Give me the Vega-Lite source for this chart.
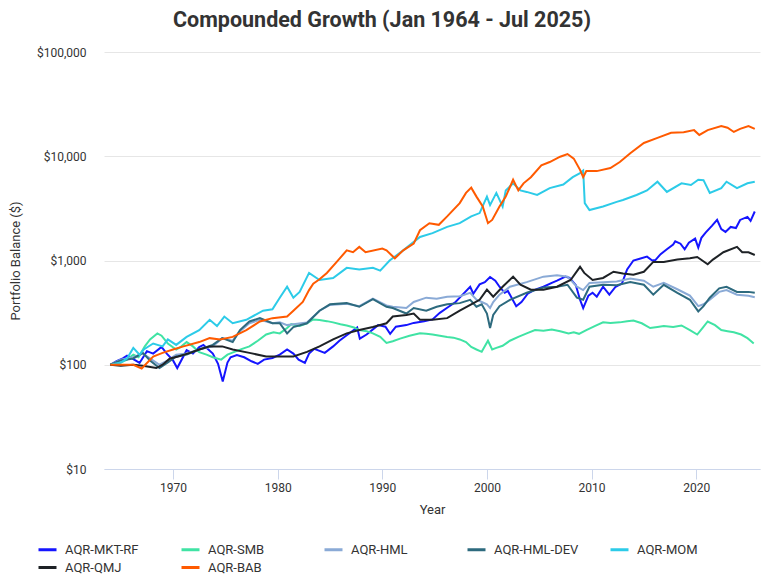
{
"$schema":"https://vega.github.io/schema/vega-lite/v6.json",
"width":656,"height":417,
"autosize":{"type":"none"},
"padding":{"left":104,"top":52,"right":2,"bottom":108},
"background":"white",
"config":{"view":{"stroke":null},"font":"Roboto"},
"title":{"text":"Compounded Growth (Jan 1964 - Jul 2025)","fontSize":21.5,"fontWeight":"bold","color":"#333333","anchor":"middle","frame":"group","dx":-50,"offset":15,"font":"Roboto"},
"data":{"values":[
{"s":"AQR-MKT-RF","t":1964.0,"v":100},{"s":"AQR-MKT-RF","t":1964.6,"v":108},{"s":"AQR-MKT-RF","t":1965.2,"v":115},{"s":"AQR-MKT-RF","t":1965.6,"v":122},{"s":"AQR-MKT-RF","t":1966.4,"v":110},{"s":"AQR-MKT-RF","t":1966.8,"v":104},{"s":"AQR-MKT-RF","t":1967.5,"v":135},{"s":"AQR-MKT-RF","t":1968.1,"v":128},{"s":"AQR-MKT-RF","t":1968.9,"v":148},{"s":"AQR-MKT-RF","t":1969.4,"v":128},{"s":"AQR-MKT-RF","t":1970.0,"v":110},{"s":"AQR-MKT-RF","t":1970.4,"v":93},{"s":"AQR-MKT-RF","t":1971.3,"v":138},{"s":"AQR-MKT-RF","t":1971.9,"v":128},{"s":"AQR-MKT-RF","t":1972.5,"v":148},{"s":"AQR-MKT-RF","t":1972.9,"v":155},{"s":"AQR-MKT-RF","t":1973.8,"v":128},{"s":"AQR-MKT-RF","t":1974.3,"v":102},{"s":"AQR-MKT-RF","t":1974.75,"v":69},{"s":"AQR-MKT-RF","t":1975.2,"v":105},{"s":"AQR-MKT-RF","t":1975.5,"v":118},{"s":"AQR-MKT-RF","t":1976.1,"v":124},{"s":"AQR-MKT-RF","t":1976.8,"v":118},{"s":"AQR-MKT-RF","t":1977.5,"v":108},{"s":"AQR-MKT-RF","t":1978.1,"v":102},{"s":"AQR-MKT-RF","t":1978.7,"v":112},{"s":"AQR-MKT-RF","t":1979.5,"v":116},{"s":"AQR-MKT-RF","t":1980.2,"v":125},{"s":"AQR-MKT-RF","t":1980.9,"v":140},{"s":"AQR-MKT-RF","t":1981.5,"v":128},{"s":"AQR-MKT-RF","t":1982.0,"v":112},{"s":"AQR-MKT-RF","t":1982.6,"v":104},{"s":"AQR-MKT-RF","t":1983.0,"v":128},{"s":"AQR-MKT-RF","t":1983.5,"v":142},{"s":"AQR-MKT-RF","t":1984.5,"v":130},{"s":"AQR-MKT-RF","t":1985.3,"v":150},{"s":"AQR-MKT-RF","t":1985.9,"v":170},{"s":"AQR-MKT-RF","t":1986.6,"v":192},{"s":"AQR-MKT-RF","t":1987.6,"v":228},{"s":"AQR-MKT-RF","t":1987.85,"v":178},{"s":"AQR-MKT-RF","t":1988.5,"v":195},{"s":"AQR-MKT-RF","t":1989.6,"v":240},{"s":"AQR-MKT-RF","t":1990.3,"v":232},{"s":"AQR-MKT-RF","t":1990.75,"v":198},{"s":"AQR-MKT-RF","t":1991.3,"v":232},{"s":"AQR-MKT-RF","t":1992.3,"v":240},{"s":"AQR-MKT-RF","t":1993.0,"v":252},{"s":"AQR-MKT-RF","t":1994.0,"v":262},{"s":"AQR-MKT-RF","t":1994.8,"v":272},{"s":"AQR-MKT-RF","t":1995.5,"v":315},{"s":"AQR-MKT-RF","t":1996.2,"v":352},{"s":"AQR-MKT-RF","t":1997.0,"v":400},{"s":"AQR-MKT-RF","t":1997.4,"v":440},{"s":"AQR-MKT-RF","t":1998.4,"v":560},{"s":"AQR-MKT-RF","t":1998.7,"v":480},{"s":"AQR-MKT-RF","t":1999.3,"v":590},{"s":"AQR-MKT-RF","t":1999.8,"v":620},{"s":"AQR-MKT-RF","t":2000.3,"v":695},{"s":"AQR-MKT-RF","t":2000.8,"v":640},{"s":"AQR-MKT-RF","t":2001.2,"v":560},{"s":"AQR-MKT-RF","t":2001.7,"v":490},{"s":"AQR-MKT-RF","t":2002.0,"v":510},{"s":"AQR-MKT-RF","t":2002.8,"v":364},{"s":"AQR-MKT-RF","t":2003.3,"v":400},{"s":"AQR-MKT-RF","t":2003.9,"v":480},{"s":"AQR-MKT-RF","t":2004.5,"v":520},{"s":"AQR-MKT-RF","t":2005.4,"v":560},{"s":"AQR-MKT-RF","t":2006.2,"v":610},{"s":"AQR-MKT-RF","t":2006.7,"v":640},{"s":"AQR-MKT-RF","t":2007.5,"v":700},{"s":"AQR-MKT-RF","t":2007.9,"v":680},{"s":"AQR-MKT-RF","t":2008.5,"v":580},{"s":"AQR-MKT-RF","t":2008.9,"v":420},{"s":"AQR-MKT-RF","t":2009.2,"v":350},{"s":"AQR-MKT-RF","t":2009.7,"v":460},{"s":"AQR-MKT-RF","t":2010.1,"v":490},{"s":"AQR-MKT-RF","t":2010.5,"v":450},{"s":"AQR-MKT-RF","t":2011.1,"v":560},{"s":"AQR-MKT-RF","t":2011.7,"v":470},{"s":"AQR-MKT-RF","t":2012.3,"v":560},{"s":"AQR-MKT-RF","t":2012.9,"v":600},{"s":"AQR-MKT-RF","t":2013.4,"v":820},{"s":"AQR-MKT-RF","t":2014.0,"v":1000},{"s":"AQR-MKT-RF","t":2014.6,"v":1040},{"s":"AQR-MKT-RF","t":2015.3,"v":1090},{"s":"AQR-MKT-RF","t":2015.8,"v":1000},{"s":"AQR-MKT-RF","t":2016.1,"v":1010},{"s":"AQR-MKT-RF","t":2016.6,"v":1150},{"s":"AQR-MKT-RF","t":2017.2,"v":1280},{"s":"AQR-MKT-RF","t":2017.8,"v":1420},{"s":"AQR-MKT-RF","t":2018.0,"v":1530},{"s":"AQR-MKT-RF","t":2018.5,"v":1450},{"s":"AQR-MKT-RF","t":2018.9,"v":1280},{"s":"AQR-MKT-RF","t":2019.3,"v":1480},{"s":"AQR-MKT-RF","t":2019.9,"v":1620},{"s":"AQR-MKT-RF","t":2020.2,"v":1330},{"s":"AQR-MKT-RF","t":2020.5,"v":1650},{"s":"AQR-MKT-RF","t":2020.9,"v":1850},{"s":"AQR-MKT-RF","t":2021.5,"v":2150},{"s":"AQR-MKT-RF","t":2022.0,"v":2460},{"s":"AQR-MKT-RF","t":2022.4,"v":2000},{"s":"AQR-MKT-RF","t":2022.8,"v":1880},{"s":"AQR-MKT-RF","t":2023.3,"v":2100},{"s":"AQR-MKT-RF","t":2023.8,"v":2050},{"s":"AQR-MKT-RF","t":2024.2,"v":2450},{"s":"AQR-MKT-RF","t":2024.9,"v":2620},{"s":"AQR-MKT-RF","t":2025.2,"v":2400},{"s":"AQR-MKT-RF","t":2025.6,"v":2950},
{"s":"AQR-SMB","t":1964.0,"v":100},{"s":"AQR-SMB","t":1964.8,"v":103},{"s":"AQR-SMB","t":1965.6,"v":112},{"s":"AQR-SMB","t":1966.2,"v":125},{"s":"AQR-SMB","t":1966.7,"v":118},{"s":"AQR-SMB","t":1967.3,"v":150},{"s":"AQR-SMB","t":1967.8,"v":175},{"s":"AQR-SMB","t":1968.5,"v":200},{"s":"AQR-SMB","t":1968.9,"v":190},{"s":"AQR-SMB","t":1969.5,"v":160},{"s":"AQR-SMB","t":1970.3,"v":140},{"s":"AQR-SMB","t":1970.8,"v":150},{"s":"AQR-SMB","t":1971.3,"v":165},{"s":"AQR-SMB","t":1971.9,"v":150},{"s":"AQR-SMB","t":1972.5,"v":132},{"s":"AQR-SMB","t":1973.2,"v":125},{"s":"AQR-SMB","t":1973.8,"v":118},{"s":"AQR-SMB","t":1974.6,"v":112},{"s":"AQR-SMB","t":1975.2,"v":125},{"s":"AQR-SMB","t":1975.8,"v":132},{"s":"AQR-SMB","t":1976.6,"v":142},{"s":"AQR-SMB","t":1977.3,"v":150},{"s":"AQR-SMB","t":1978.1,"v":170},{"s":"AQR-SMB","t":1978.9,"v":195},{"s":"AQR-SMB","t":1979.6,"v":205},{"s":"AQR-SMB","t":1980.2,"v":200},{"s":"AQR-SMB","t":1980.9,"v":225},{"s":"AQR-SMB","t":1981.3,"v":245},{"s":"AQR-SMB","t":1982.1,"v":235},{"s":"AQR-SMB","t":1982.8,"v":250},{"s":"AQR-SMB","t":1983.4,"v":272},{"s":"AQR-SMB","t":1984.0,"v":268},{"s":"AQR-SMB","t":1984.7,"v":262},{"s":"AQR-SMB","t":1985.3,"v":255},{"s":"AQR-SMB","t":1986.0,"v":245},{"s":"AQR-SMB","t":1986.6,"v":238},{"s":"AQR-SMB","t":1987.3,"v":228},{"s":"AQR-SMB","t":1987.8,"v":215},{"s":"AQR-SMB","t":1988.5,"v":210},{"s":"AQR-SMB","t":1989.1,"v":200},{"s":"AQR-SMB","t":1989.8,"v":185},{"s":"AQR-SMB","t":1990.4,"v":162},{"s":"AQR-SMB","t":1991.0,"v":168},{"s":"AQR-SMB","t":1991.7,"v":178},{"s":"AQR-SMB","t":1992.6,"v":190},{"s":"AQR-SMB","t":1993.6,"v":200},{"s":"AQR-SMB","t":1994.2,"v":198},{"s":"AQR-SMB","t":1994.8,"v":195},{"s":"AQR-SMB","t":1995.5,"v":190},{"s":"AQR-SMB","t":1996.2,"v":185},{"s":"AQR-SMB","t":1996.8,"v":182},{"s":"AQR-SMB","t":1997.4,"v":175},{"s":"AQR-SMB","t":1998.0,"v":165},{"s":"AQR-SMB","t":1998.5,"v":148},{"s":"AQR-SMB","t":1999.0,"v":140},{"s":"AQR-SMB","t":1999.5,"v":133},{"s":"AQR-SMB","t":2000.1,"v":170},{"s":"AQR-SMB","t":2000.5,"v":140},{"s":"AQR-SMB","t":2000.9,"v":145},{"s":"AQR-SMB","t":2001.5,"v":152},{"s":"AQR-SMB","t":2002.2,"v":170},{"s":"AQR-SMB","t":2003.0,"v":185},{"s":"AQR-SMB","t":2003.8,"v":200},{"s":"AQR-SMB","t":2004.6,"v":215},{"s":"AQR-SMB","t":2005.4,"v":212},{"s":"AQR-SMB","t":2006.2,"v":218},{"s":"AQR-SMB","t":2007.0,"v":210},{"s":"AQR-SMB","t":2007.8,"v":200},{"s":"AQR-SMB","t":2008.3,"v":205},{"s":"AQR-SMB","t":2008.8,"v":198},{"s":"AQR-SMB","t":2009.5,"v":215},{"s":"AQR-SMB","t":2010.3,"v":235},{"s":"AQR-SMB","t":2011.1,"v":255},{"s":"AQR-SMB","t":2011.8,"v":252},{"s":"AQR-SMB","t":2012.7,"v":255},{"s":"AQR-SMB","t":2013.4,"v":262},{"s":"AQR-SMB","t":2014.0,"v":265},{"s":"AQR-SMB","t":2014.8,"v":250},{"s":"AQR-SMB","t":2015.6,"v":225},{"s":"AQR-SMB","t":2016.3,"v":230},{"s":"AQR-SMB","t":2016.9,"v":235},{"s":"AQR-SMB","t":2017.8,"v":230},{"s":"AQR-SMB","t":2018.6,"v":238},{"s":"AQR-SMB","t":2019.4,"v":215},{"s":"AQR-SMB","t":2020.1,"v":195},{"s":"AQR-SMB","t":2020.6,"v":225},{"s":"AQR-SMB","t":2021.1,"v":260},{"s":"AQR-SMB","t":2021.8,"v":240},{"s":"AQR-SMB","t":2022.4,"v":215},{"s":"AQR-SMB","t":2023.0,"v":210},{"s":"AQR-SMB","t":2023.6,"v":205},{"s":"AQR-SMB","t":2024.3,"v":195},{"s":"AQR-SMB","t":2024.9,"v":180},{"s":"AQR-SMB","t":2025.2,"v":170},{"s":"AQR-SMB","t":2025.5,"v":160},
{"s":"AQR-HML","t":1964.0,"v":100},{"s":"AQR-HML","t":1965.0,"v":112},{"s":"AQR-HML","t":1966.2,"v":118},{"s":"AQR-HML","t":1967.1,"v":128},{"s":"AQR-HML","t":1967.8,"v":115},{"s":"AQR-HML","t":1968.7,"v":100},{"s":"AQR-HML","t":1969.5,"v":110},{"s":"AQR-HML","t":1970.3,"v":125},{"s":"AQR-HML","t":1971.3,"v":128},{"s":"AQR-HML","t":1972.5,"v":140},{"s":"AQR-HML","t":1973.8,"v":150},{"s":"AQR-HML","t":1974.7,"v":180},{"s":"AQR-HML","t":1975.7,"v":170},{"s":"AQR-HML","t":1976.4,"v":210},{"s":"AQR-HML","t":1977.3,"v":250},{"s":"AQR-HML","t":1978.3,"v":270},{"s":"AQR-HML","t":1979.5,"v":250},{"s":"AQR-HML","t":1980.2,"v":255},{"s":"AQR-HML","t":1980.9,"v":240},{"s":"AQR-HML","t":1981.5,"v":245},{"s":"AQR-HML","t":1982.8,"v":255},{"s":"AQR-HML","t":1984.0,"v":330},{"s":"AQR-HML","t":1985.0,"v":375},{"s":"AQR-HML","t":1986.6,"v":385},{"s":"AQR-HML","t":1987.8,"v":365},{"s":"AQR-HML","t":1989.1,"v":430},{"s":"AQR-HML","t":1990.4,"v":370},{"s":"AQR-HML","t":1991.0,"v":360},{"s":"AQR-HML","t":1992.3,"v":350},{"s":"AQR-HML","t":1993.0,"v":400},{"s":"AQR-HML","t":1994.2,"v":440},{"s":"AQR-HML","t":1995.2,"v":430},{"s":"AQR-HML","t":1996.2,"v":450},{"s":"AQR-HML","t":1997.4,"v":455},{"s":"AQR-HML","t":1998.4,"v":490},{"s":"AQR-HML","t":1999.0,"v":420},{"s":"AQR-HML","t":1999.5,"v":400},{"s":"AQR-HML","t":2000.0,"v":380},{"s":"AQR-HML","t":2000.3,"v":350},{"s":"AQR-HML","t":2000.6,"v":400},{"s":"AQR-HML","t":2001.2,"v":470},{"s":"AQR-HML","t":2002.2,"v":560},{"s":"AQR-HML","t":2003.8,"v":620},{"s":"AQR-HML","t":2005.4,"v":700},{"s":"AQR-HML","t":2006.7,"v":720},{"s":"AQR-HML","t":2007.7,"v":700},{"s":"AQR-HML","t":2008.6,"v":560},{"s":"AQR-HML","t":2009.2,"v":520},{"s":"AQR-HML","t":2009.8,"v":610},{"s":"AQR-HML","t":2011.1,"v":620},{"s":"AQR-HML","t":2012.4,"v":630},{"s":"AQR-HML","t":2013.7,"v":670},{"s":"AQR-HML","t":2015.0,"v":640},{"s":"AQR-HML","t":2015.9,"v":560},{"s":"AQR-HML","t":2016.9,"v":610},{"s":"AQR-HML","t":2018.2,"v":530},{"s":"AQR-HML","t":2019.4,"v":460},{"s":"AQR-HML","t":2020.2,"v":365},{"s":"AQR-HML","t":2020.7,"v":380},{"s":"AQR-HML","t":2021.3,"v":420},{"s":"AQR-HML","t":2022.2,"v":500},{"s":"AQR-HML","t":2022.9,"v":520},{"s":"AQR-HML","t":2023.9,"v":470},{"s":"AQR-HML","t":2025.0,"v":460},{"s":"AQR-HML","t":2025.6,"v":445},
{"s":"AQR-HML-DEV","t":1964.0,"v":100},{"s":"AQR-HML-DEV","t":1965.0,"v":110},{"s":"AQR-HML-DEV","t":1966.2,"v":115},{"s":"AQR-HML-DEV","t":1967.1,"v":130},{"s":"AQR-HML-DEV","t":1967.8,"v":110},{"s":"AQR-HML-DEV","t":1968.7,"v":93},{"s":"AQR-HML-DEV","t":1969.5,"v":105},{"s":"AQR-HML-DEV","t":1970.3,"v":120},{"s":"AQR-HML-DEV","t":1971.3,"v":125},{"s":"AQR-HML-DEV","t":1972.5,"v":140},{"s":"AQR-HML-DEV","t":1973.8,"v":155},{"s":"AQR-HML-DEV","t":1974.7,"v":180},{"s":"AQR-HML-DEV","t":1975.7,"v":165},{"s":"AQR-HML-DEV","t":1976.4,"v":215},{"s":"AQR-HML-DEV","t":1977.3,"v":260},{"s":"AQR-HML-DEV","t":1978.3,"v":280},{"s":"AQR-HML-DEV","t":1979.5,"v":250},{"s":"AQR-HML-DEV","t":1980.2,"v":250},{"s":"AQR-HML-DEV","t":1980.9,"v":200},{"s":"AQR-HML-DEV","t":1981.5,"v":230},{"s":"AQR-HML-DEV","t":1982.8,"v":250},{"s":"AQR-HML-DEV","t":1984.0,"v":330},{"s":"AQR-HML-DEV","t":1985.0,"v":380},{"s":"AQR-HML-DEV","t":1986.6,"v":390},{"s":"AQR-HML-DEV","t":1987.8,"v":360},{"s":"AQR-HML-DEV","t":1989.1,"v":425},{"s":"AQR-HML-DEV","t":1990.4,"v":360},{"s":"AQR-HML-DEV","t":1991.0,"v":350},{"s":"AQR-HML-DEV","t":1992.3,"v":310},{"s":"AQR-HML-DEV","t":1993.0,"v":350},{"s":"AQR-HML-DEV","t":1994.2,"v":330},{"s":"AQR-HML-DEV","t":1995.2,"v":360},{"s":"AQR-HML-DEV","t":1996.2,"v":380},{"s":"AQR-HML-DEV","t":1997.4,"v":390},{"s":"AQR-HML-DEV","t":1998.4,"v":420},{"s":"AQR-HML-DEV","t":1999.0,"v":360},{"s":"AQR-HML-DEV","t":1999.5,"v":380},{"s":"AQR-HML-DEV","t":2000.0,"v":310},{"s":"AQR-HML-DEV","t":2000.3,"v":225},{"s":"AQR-HML-DEV","t":2000.6,"v":300},{"s":"AQR-HML-DEV","t":2001.2,"v":365},{"s":"AQR-HML-DEV","t":2002.2,"v":420},{"s":"AQR-HML-DEV","t":2003.8,"v":490},{"s":"AQR-HML-DEV","t":2005.4,"v":550},{"s":"AQR-HML-DEV","t":2006.7,"v":560},{"s":"AQR-HML-DEV","t":2007.7,"v":585},{"s":"AQR-HML-DEV","t":2008.6,"v":440},{"s":"AQR-HML-DEV","t":2009.2,"v":420},{"s":"AQR-HML-DEV","t":2009.8,"v":560},{"s":"AQR-HML-DEV","t":2011.1,"v":585},{"s":"AQR-HML-DEV","t":2012.4,"v":580},{"s":"AQR-HML-DEV","t":2013.7,"v":620},{"s":"AQR-HML-DEV","t":2015.0,"v":585},{"s":"AQR-HML-DEV","t":2015.9,"v":470},{"s":"AQR-HML-DEV","t":2016.9,"v":585},{"s":"AQR-HML-DEV","t":2018.2,"v":490},{"s":"AQR-HML-DEV","t":2019.4,"v":420},{"s":"AQR-HML-DEV","t":2020.2,"v":325},{"s":"AQR-HML-DEV","t":2020.7,"v":365},{"s":"AQR-HML-DEV","t":2021.3,"v":440},{"s":"AQR-HML-DEV","t":2022.2,"v":540},{"s":"AQR-HML-DEV","t":2022.9,"v":560},{"s":"AQR-HML-DEV","t":2023.9,"v":500},{"s":"AQR-HML-DEV","t":2025.0,"v":500},{"s":"AQR-HML-DEV","t":2025.6,"v":490},
{"s":"AQR-MOM","t":1964.0,"v":100},{"s":"AQR-MOM","t":1965.0,"v":105},{"s":"AQR-MOM","t":1965.6,"v":115},{"s":"AQR-MOM","t":1966.2,"v":145},{"s":"AQR-MOM","t":1966.8,"v":125},{"s":"AQR-MOM","t":1967.2,"v":140},{"s":"AQR-MOM","t":1968.1,"v":160},{"s":"AQR-MOM","t":1969.0,"v":150},{"s":"AQR-MOM","t":1969.5,"v":175},{"s":"AQR-MOM","t":1970.3,"v":155},{"s":"AQR-MOM","t":1971.3,"v":185},{"s":"AQR-MOM","t":1972.5,"v":215},{"s":"AQR-MOM","t":1973.5,"v":270},{"s":"AQR-MOM","t":1974.2,"v":235},{"s":"AQR-MOM","t":1974.9,"v":290},{"s":"AQR-MOM","t":1975.7,"v":250},{"s":"AQR-MOM","t":1977.0,"v":270},{"s":"AQR-MOM","t":1978.6,"v":330},{"s":"AQR-MOM","t":1979.5,"v":340},{"s":"AQR-MOM","t":1980.2,"v":440},{"s":"AQR-MOM","t":1980.9,"v":560},{"s":"AQR-MOM","t":1981.5,"v":440},{"s":"AQR-MOM","t":1982.1,"v":500},{"s":"AQR-MOM","t":1983.0,"v":760},{"s":"AQR-MOM","t":1984.0,"v":650},{"s":"AQR-MOM","t":1985.3,"v":680},{"s":"AQR-MOM","t":1986.6,"v":850},{"s":"AQR-MOM","t":1987.8,"v":820},{"s":"AQR-MOM","t":1989.1,"v":850},{"s":"AQR-MOM","t":1989.8,"v":800},{"s":"AQR-MOM","t":1990.7,"v":1000},{"s":"AQR-MOM","t":1992.0,"v":1250},{"s":"AQR-MOM","t":1993.6,"v":1680},{"s":"AQR-MOM","t":1994.8,"v":1830},{"s":"AQR-MOM","t":1996.2,"v":2100},{"s":"AQR-MOM","t":1997.4,"v":2280},{"s":"AQR-MOM","t":1998.5,"v":2650},{"s":"AQR-MOM","t":1999.3,"v":2850},{"s":"AQR-MOM","t":2000.0,"v":4100},{"s":"AQR-MOM","t":2000.3,"v":3400},{"s":"AQR-MOM","t":2000.9,"v":4450},{"s":"AQR-MOM","t":2001.5,"v":3300},{"s":"AQR-MOM","t":2001.8,"v":4700},{"s":"AQR-MOM","t":2002.5,"v":5500},{"s":"AQR-MOM","t":2003.2,"v":4700},{"s":"AQR-MOM","t":2003.8,"v":4550},{"s":"AQR-MOM","t":2004.8,"v":4250},{"s":"AQR-MOM","t":2006.0,"v":4950},{"s":"AQR-MOM","t":2007.3,"v":5350},{"s":"AQR-MOM","t":2008.2,"v":6300},{"s":"AQR-MOM","t":2008.9,"v":6900},{"s":"AQR-MOM","t":2009.2,"v":7300},{"s":"AQR-MOM","t":2009.35,"v":3550},{"s":"AQR-MOM","t":2009.8,"v":3050},{"s":"AQR-MOM","t":2011.1,"v":3300},{"s":"AQR-MOM","t":2012.4,"v":3650},{"s":"AQR-MOM","t":2013.0,"v":3800},{"s":"AQR-MOM","t":2014.3,"v":4250},{"s":"AQR-MOM","t":2015.3,"v":4700},{"s":"AQR-MOM","t":2016.3,"v":5700},{"s":"AQR-MOM","t":2017.2,"v":4550},{"s":"AQR-MOM","t":2018.6,"v":5500},{"s":"AQR-MOM","t":2019.5,"v":5300},{"s":"AQR-MOM","t":2020.2,"v":5950},{"s":"AQR-MOM","t":2020.7,"v":5900},{"s":"AQR-MOM","t":2021.3,"v":4450},{"s":"AQR-MOM","t":2022.4,"v":4950},{"s":"AQR-MOM","t":2022.9,"v":5700},{"s":"AQR-MOM","t":2023.9,"v":4950},{"s":"AQR-MOM","t":2024.9,"v":5500},{"s":"AQR-MOM","t":2025.6,"v":5700},
{"s":"AQR-QMJ","t":1964.0,"v":100},{"s":"AQR-QMJ","t":1965.0,"v":98},{"s":"AQR-QMJ","t":1966.2,"v":100},{"s":"AQR-QMJ","t":1967.1,"v":98},{"s":"AQR-QMJ","t":1968.4,"v":93},{"s":"AQR-QMJ","t":1969.0,"v":100},{"s":"AQR-QMJ","t":1969.7,"v":115},{"s":"AQR-QMJ","t":1970.5,"v":120},{"s":"AQR-QMJ","t":1971.6,"v":130},{"s":"AQR-QMJ","t":1972.5,"v":140},{"s":"AQR-QMJ","t":1973.5,"v":150},{"s":"AQR-QMJ","t":1974.7,"v":150},{"s":"AQR-QMJ","t":1975.7,"v":140},{"s":"AQR-QMJ","t":1977.3,"v":130},{"s":"AQR-QMJ","t":1978.9,"v":120},{"s":"AQR-QMJ","t":1980.5,"v":120},{"s":"AQR-QMJ","t":1981.5,"v":120},{"s":"AQR-QMJ","t":1982.8,"v":133},{"s":"AQR-QMJ","t":1984.0,"v":150},{"s":"AQR-QMJ","t":1985.3,"v":175},{"s":"AQR-QMJ","t":1986.6,"v":200},{"s":"AQR-QMJ","t":1987.8,"v":215},{"s":"AQR-QMJ","t":1989.1,"v":230},{"s":"AQR-QMJ","t":1990.4,"v":250},{"s":"AQR-QMJ","t":1991.0,"v":290},{"s":"AQR-QMJ","t":1992.3,"v":300},{"s":"AQR-QMJ","t":1993.0,"v":310},{"s":"AQR-QMJ","t":1993.6,"v":270},{"s":"AQR-QMJ","t":1994.8,"v":270},{"s":"AQR-QMJ","t":1996.2,"v":280},{"s":"AQR-QMJ","t":1997.4,"v":330},{"s":"AQR-QMJ","t":1998.5,"v":380},{"s":"AQR-QMJ","t":1999.3,"v":420},{"s":"AQR-QMJ","t":2000.0,"v":525},{"s":"AQR-QMJ","t":2000.6,"v":450},{"s":"AQR-QMJ","t":2001.5,"v":560},{"s":"AQR-QMJ","t":2002.5,"v":700},{"s":"AQR-QMJ","t":2003.2,"v":585},{"s":"AQR-QMJ","t":2004.2,"v":525},{"s":"AQR-QMJ","t":2005.4,"v":525},{"s":"AQR-QMJ","t":2006.7,"v":560},{"s":"AQR-QMJ","t":2008.0,"v":650},{"s":"AQR-QMJ","t":2008.9,"v":870},{"s":"AQR-QMJ","t":2009.3,"v":760},{"s":"AQR-QMJ","t":2010.1,"v":650},{"s":"AQR-QMJ","t":2011.1,"v":680},{"s":"AQR-QMJ","t":2012.1,"v":780},{"s":"AQR-QMJ","t":2013.0,"v":750},{"s":"AQR-QMJ","t":2014.0,"v":730},{"s":"AQR-QMJ","t":2015.0,"v":780},{"s":"AQR-QMJ","t":2015.9,"v":970},{"s":"AQR-QMJ","t":2016.9,"v":970},{"s":"AQR-QMJ","t":2018.2,"v":1020},{"s":"AQR-QMJ","t":2019.4,"v":1050},{"s":"AQR-QMJ","t":2020.1,"v":1080},{"s":"AQR-QMJ","t":2021.1,"v":920},{"s":"AQR-QMJ","t":2021.6,"v":1020},{"s":"AQR-QMJ","t":2022.6,"v":1200},{"s":"AQR-QMJ","t":2023.9,"v":1350},{"s":"AQR-QMJ","t":2024.4,"v":1200},{"s":"AQR-QMJ","t":2025.0,"v":1200},{"s":"AQR-QMJ","t":2025.6,"v":1130},
{"s":"AQR-BAB","t":1964.0,"v":100},{"s":"AQR-BAB","t":1965.0,"v":100},{"s":"AQR-BAB","t":1966.2,"v":100},{"s":"AQR-BAB","t":1967.0,"v":92},{"s":"AQR-BAB","t":1968.1,"v":120},{"s":"AQR-BAB","t":1969.0,"v":130},{"s":"AQR-BAB","t":1970.0,"v":140},{"s":"AQR-BAB","t":1971.0,"v":150},{"s":"AQR-BAB","t":1972.5,"v":165},{"s":"AQR-BAB","t":1973.5,"v":180},{"s":"AQR-BAB","t":1974.5,"v":175},{"s":"AQR-BAB","t":1975.7,"v":185},{"s":"AQR-BAB","t":1977.0,"v":215},{"s":"AQR-BAB","t":1978.3,"v":260},{"s":"AQR-BAB","t":1979.5,"v":280},{"s":"AQR-BAB","t":1980.9,"v":290},{"s":"AQR-BAB","t":1981.5,"v":330},{"s":"AQR-BAB","t":1982.4,"v":400},{"s":"AQR-BAB","t":1983.0,"v":520},{"s":"AQR-BAB","t":1983.4,"v":600},{"s":"AQR-BAB","t":1984.0,"v":660},{"s":"AQR-BAB","t":1984.7,"v":760},{"s":"AQR-BAB","t":1985.6,"v":960},{"s":"AQR-BAB","t":1986.6,"v":1250},{"s":"AQR-BAB","t":1987.2,"v":1200},{"s":"AQR-BAB","t":1987.8,"v":1350},{"s":"AQR-BAB","t":1988.4,"v":1200},{"s":"AQR-BAB","t":1990.0,"v":1300},{"s":"AQR-BAB","t":1990.4,"v":1250},{"s":"AQR-BAB","t":1991.2,"v":1050},{"s":"AQR-BAB","t":1992.0,"v":1250},{"s":"AQR-BAB","t":1993.0,"v":1450},{"s":"AQR-BAB","t":1993.6,"v":1950},{"s":"AQR-BAB","t":1994.5,"v":2280},{"s":"AQR-BAB","t":1995.4,"v":2200},{"s":"AQR-BAB","t":1996.2,"v":2650},{"s":"AQR-BAB","t":1997.4,"v":3550},{"s":"AQR-BAB","t":1998.0,"v":4450},{"s":"AQR-BAB","t":1998.5,"v":5000},{"s":"AQR-BAB","t":1999.0,"v":4100},{"s":"AQR-BAB","t":1999.6,"v":3300},{"s":"AQR-BAB","t":2000.1,"v":2280},{"s":"AQR-BAB","t":2000.5,"v":2450},{"s":"AQR-BAB","t":2001.2,"v":3300},{"s":"AQR-BAB","t":2001.8,"v":4100},{"s":"AQR-BAB","t":2002.5,"v":5950},{"s":"AQR-BAB","t":2003.0,"v":4700},{"s":"AQR-BAB","t":2003.5,"v":5500},{"s":"AQR-BAB","t":2004.2,"v":6300},{"s":"AQR-BAB","t":2005.2,"v":8200},{"s":"AQR-BAB","t":2006.0,"v":8800},{"s":"AQR-BAB","t":2007.0,"v":9900},{"s":"AQR-BAB","t":2007.7,"v":10500},{"s":"AQR-BAB","t":2008.3,"v":9500},{"s":"AQR-BAB","t":2008.9,"v":7400},{"s":"AQR-BAB","t":2009.2,"v":6300},{"s":"AQR-BAB","t":2009.5,"v":7200},{"s":"AQR-BAB","t":2010.5,"v":7200},{"s":"AQR-BAB","t":2011.8,"v":7700},{"s":"AQR-BAB","t":2012.7,"v":8800},{"s":"AQR-BAB","t":2013.7,"v":10700},{"s":"AQR-BAB","t":2015.0,"v":13400},{"s":"AQR-BAB","t":2016.3,"v":15000},{"s":"AQR-BAB","t":2017.6,"v":16800},{"s":"AQR-BAB","t":2018.8,"v":17000},{"s":"AQR-BAB","t":2019.8,"v":17800},{"s":"AQR-BAB","t":2020.3,"v":16000},{"s":"AQR-BAB","t":2021.1,"v":17800},{"s":"AQR-BAB","t":2022.4,"v":19500},{"s":"AQR-BAB","t":2023.0,"v":18800},{"s":"AQR-BAB","t":2023.6,"v":17100},{"s":"AQR-BAB","t":2024.2,"v":18300},{"s":"AQR-BAB","t":2025.0,"v":19500},{"s":"AQR-BAB","t":2025.6,"v":18300}
]},
"encoding":{
"x":{"field":"t","type":"quantitative","title":"Year","scale":{"domain":[1963.4,2026.1],"nice":false,"zero":false},
"axis":{"values":[1970,1980,1990,2000,2010,2020],"format":"d","grid":false,"domainColor":"#ccd6eb","tickColor":"#ccd6eb","tickSize":10,"labelPadding":3,"labelFontSize":12,"labelColor":"#333333","labelFont":"Roboto","titleFont":"Roboto","titleFontSize":13,"titleFontWeight":"normal","titleColor":"#333333","titlePadding":10}},
"y":{"field":"v","type":"quantitative","title":"Portfolio Balance ($)","scale":{"type":"log","domain":[10,100000],"nice":false},
"axis":{"values":[10,100,1000,10000,100000],"labelExpr":"'$' + format(datum.value, ',')","grid":true,"gridColor":"#e6e6e6","domain":false,"ticks":false,"labelPadding":18,"labelFontSize":12,"labelColor":"#333333","labelFont":"Roboto","titleFont":"Roboto","titleFontSize":13,"titleFontWeight":"normal","titleColor":"#333333","titlePadding":14}},
"color":{"field":"s","type":"nominal","title":null,
"scale":{"domain":["AQR-MKT-RF","AQR-SMB","AQR-HML","AQR-HML-DEV","AQR-MOM","AQR-QMJ","AQR-BAB"],"range":["#1515ff","#40e3a4","#8aaad6","#2d6a7e","#2ccbe8","#1e2226","#ff5a00"]},
"legend":{"orient":"none","legendX":-67,"legendY":487,"direction":"horizontal","columns":5,"gridAlign":"all","columnPadding":25,"rowPadding":0,"symbolType":"stroke","symbolSize":324,"symbolStrokeWidth":3,"symbolOffset":0,"labelOffset":7,"labelFontSize":13,"labelFont":"Roboto","labelColor":"#333333","labelLimit":200}}
},
"layer":[
{"transform":[{"filter":"datum.s == 'AQR-MKT-RF'"}],"mark":{"type":"line","strokeWidth":2,"clip":true}},
{"transform":[{"filter":"datum.s == 'AQR-SMB'"}],"mark":{"type":"line","strokeWidth":2,"clip":true}},
{"transform":[{"filter":"datum.s == 'AQR-HML'"}],"mark":{"type":"line","strokeWidth":2,"clip":true}},
{"transform":[{"filter":"datum.s == 'AQR-HML-DEV'"}],"mark":{"type":"line","strokeWidth":2,"clip":true}},
{"transform":[{"filter":"datum.s == 'AQR-MOM'"}],"mark":{"type":"line","strokeWidth":2,"clip":true}},
{"transform":[{"filter":"datum.s == 'AQR-QMJ'"}],"mark":{"type":"line","strokeWidth":2,"clip":true}},
{"transform":[{"filter":"datum.s == 'AQR-BAB'"}],"mark":{"type":"line","strokeWidth":2,"clip":true}}
]
}
